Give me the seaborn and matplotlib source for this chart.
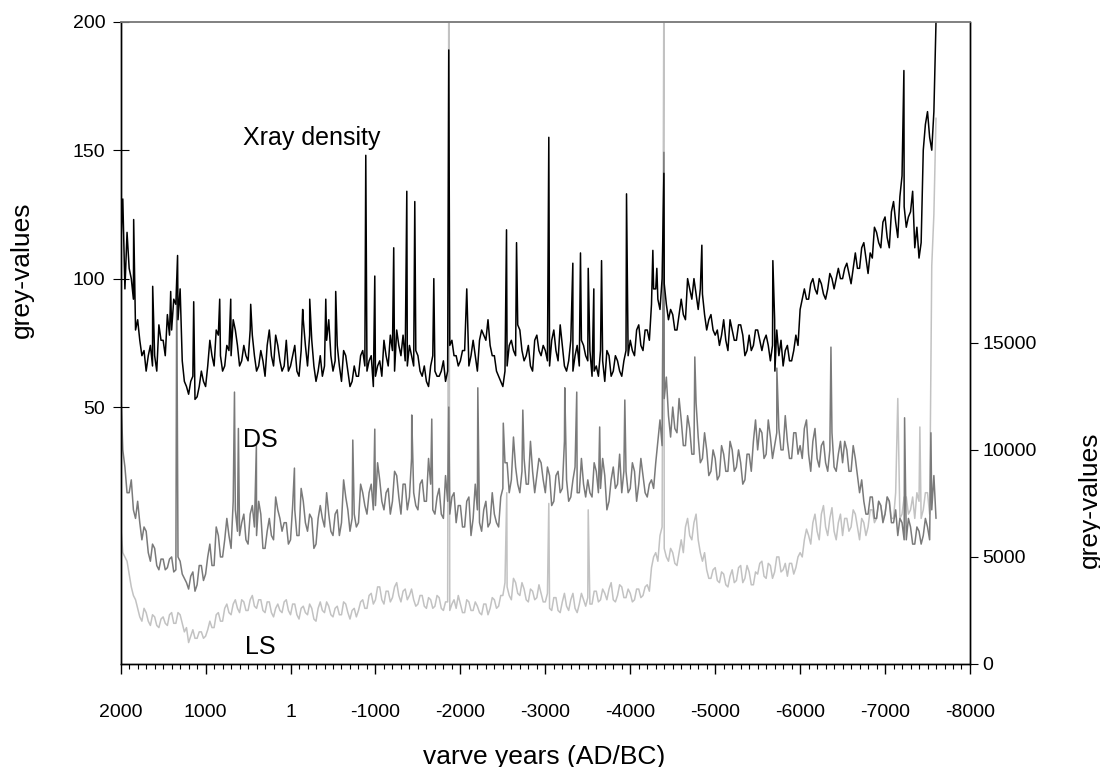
import numpy as np
import pandas as pd
import matplotlib
matplotlib.use("Agg")
import matplotlib.pyplot as plt
import seaborn as sns
from matplotlib.ticker import MultipleLocator

sns.set_theme(style="white")
plt.rcParams['font.family'] = ['Liberation Sans', 'DejaVu Sans']

# ---------------- data ----------------
years_base = list(range(2000, -7601, -50))   # 2000, 1950, ..., -7600
years_mid = list(range(1975, -7576, -50))    # 1975, 1925, ..., -7575

xray_base = [
    112, 96, 104, 92, 84, 70, 64, 74, 70, 82,
    76, 86, 80, 90, 96, 60, 55, 62, 54, 64,
    58, 76, 66, 78, 64, 74, 70, 80, 66, 74,
    68, 78, 64, 72, 62, 80, 66, 74, 64, 76,
    66, 74, 62, 84, 66, 76, 60, 70, 66, 84,
    64, 74, 60, 70, 58, 66, 62, 72, 64, 70,
    62, 68, 76, 66, 72, 80, 70, 68, 74, 66,
    70, 62, 60, 66, 64, 62, 68, 64, 76, 70,
    68, 72, 66, 76, 64, 80, 76, 74, 70, 62,
    58, 66, 76, 70, 80, 68, 74, 64, 78, 70,
    72, 66, 80, 68, 74, 64, 76, 70, 66, 74,
    68, 62, 66, 72, 60, 70, 64, 68, 62, 72,
    76, 70, 82, 72, 80, 90, 96, 88, 98, 84,
    86, 80, 92, 84, 96, 100, 88, 94, 80, 86,
    78, 74, 84, 72, 80, 76, 82, 70, 78, 74,
    80, 72, 78, 68, 84, 70, 66, 74, 68, 78,
    88, 96, 92, 100, 94, 98, 92, 102, 96, 104,
    100, 106, 98, 110, 104, 114, 102, 108, 118, 112,
    124, 112, 130, 116, 140, 120, 126, 112, 108, 150,
    165, 150, 200,
]
xray_mid = [
    86, 118, 100, 80, 76, 72, 70, 66, 64, 76,
    70, 78, 92, 84, 68, 58, 60, 53, 58, 60,
    66, 70, 80, 70, 66, 72, 84, 74, 68, 70,
    80, 70, 66, 68, 74, 70, 78, 68, 66, 64,
    70, 64, 72, 74, 78, 66, 64, 62, 76, 70,
    68, 66, 72, 64, 60, 62, 70, 66, 68, 58,
    66, 62, 70, 78, 64, 74, 78, 66, 70, 72,
    64, 66, 58, 70, 62, 64, 60, 74, 70, 66,
    72, 64, 70, 70, 76, 78, 84, 70, 64, 60,
    64, 74, 72, 82, 72, 70, 66, 76, 72, 74,
    68, 76, 72, 82, 66, 68, 64, 74, 76, 70,
    72, 64, 62, 68, 72, 62, 70, 64, 68, 70,
    72, 80, 74, 80, 76, 96, 92, 100, 90, 88,
    80, 86, 86, 100, 92, 94, 96, 86, 84, 80,
    80, 78, 76, 84, 76, 82, 78, 72, 72, 80,
    76, 76, 74, 74, 80, 76, 72, 68, 72, 74,
    92, 92, 98, 96, 100, 94, 96, 100, 100, 100,
    104, 102, 104, 104, 112, 108, 110, 120, 114, 122,
    116, 126, 122, 132, 128, 124, 134, 120, 114, 160,
    155, 165,
]
xray_spike_years = [1975, 1847, 1623, 1411, 1330, 1140, 834, 704, 469, -143, -226, -415,
                    -532, -886, -992, -1215, -1369, -1463, -1687, -1863, -2075, -2543,
                    -2661, -3041, -3324, -3414, -3505, -3571, -3662, -3956, -4266, -4313,
                    -4396, -4843, -5679, -5703, -7222]
xray_spike_vals = [131, 123, 97, 95, 109, 91, 92, 92, 90, 88, 92, 92,
                   95, 148, 101, 112, 134, 130, 100, 189, 96, 119,
                   114, 155, 106, 110, 104, 96, 107, 133, 111, 104,
                   141, 113, 107, 64, 181]

ds_base = [
    13000, 9200, 8000, 7200, 7600, 5800, 6200, 4800, 5400, 4400,
    4900, 4500, 5000, 4400, 4800, 4000, 3500, 4300, 3700, 4600,
    4200, 5600, 4600, 6000, 5000, 6800, 5400, 7200, 6000, 7000,
    5600, 7400, 6000, 7000, 5400, 6800, 5800, 7200, 6200, 6600,
    5800, 7200, 6000, 7600, 6200, 6800, 5600, 7400, 6400, 7000,
    6000, 7200, 6600, 7800, 6200, 7000, 6600, 8000, 7000, 8400,
    7400, 8600, 7200, 8200, 7600, 8800, 7000, 8400, 7800, 8000,
    7200, 8600, 7600, 8400, 7000, 8200, 6800, 7600, 7800, 6600,
    7400, 6400, 7800, 6800, 7200, 6200, 7600, 6600, 7000, 6400,
    8200, 9400, 8600, 9200, 8000, 9600, 8400, 9000, 8800, 9400,
    8000, 8800, 7600, 9000, 8200, 8600, 7800, 9200, 8000, 8400,
    8600, 7800, 9000, 8200, 8800, 7600, 9200, 8400, 8000, 9000,
    8200, 9000, 8400, 8800, 7800, 8600, 9400, 11400, 12400, 11600,
    12000, 10800, 11400, 10200, 11000, 9800, 10600, 9600, 10000, 9000,
    9600, 8800, 9800, 9000, 10000, 9200, 9400, 8600, 9800, 10400,
    10000, 10800, 9800, 10600, 10200, 11000, 10000, 10400, 9600, 10800,
    10200, 11000, 9800, 10400, 9600, 10200, 9400, 10000, 9200, 9800,
    9400, 10000, 9000, 9600, 8000, 7600, 7000, 7800, 6800, 7400,
    7000, 7600, 6600, 6000, 6600, 5800, 6400, 5600, 6200, 6000,
    6400, 7200, 6800,
]
ds_mid = [
    10000, 8000, 8600, 6800, 6600, 6400, 5200, 5600, 4600, 4900,
    4400, 4900, 4300, 5000, 4200, 3800, 4100, 3400, 4600, 3900,
    5000, 4600, 6400, 5000, 5800, 6000, 7600, 6200, 6600, 5800,
    7000, 6400, 7600, 5400, 6200, 6000, 7800, 6800, 6600, 5600,
    7400, 6000, 8200, 6600, 7000, 5400, 6800, 6800, 8000, 6200,
    7000, 6000, 8600, 7200, 6800, 6400, 8400, 7400, 8000, 7200,
    9400, 7600, 8000, 7000, 9000, 7800, 8400, 7200, 9600, 7400,
    8400, 7600, 9600, 7200, 7800, 7000, 8800, 7000, 8000, 7400,
    6400, 7600, 6000, 8400, 6600, 7200, 6400, 8000, 6600, 7800,
    9400, 8000, 10600, 8400, 9000, 8400, 10400, 8000, 9600, 8600,
    9200, 7400, 8800, 8000, 10400, 7600, 8600, 8000, 9600, 7800,
    8000, 9400, 8000, 9600, 7200, 8600, 8200, 9800, 9000, 8000,
    9400, 7600, 9600, 8000, 8400, 8200, 10400, 10200, 13400, 10600,
    11000, 12400, 10200, 11600, 9800, 12200, 9400, 10800, 8800, 10000,
    8600, 10200, 9000, 10400, 9000, 10000, 8400, 9800, 9000, 11400,
    11000, 9600, 11400, 9600, 10800, 10000, 11600, 9600, 10800, 9800,
    9600, 11400, 9000, 11000, 9200, 10400, 9000, 10800, 9000, 10400,
    10400, 9000, 10200, 8800, 8600, 7000, 7800, 6800, 7600, 6600,
    7800, 6600, 7200, 6800, 5800, 6800, 5600, 6400, 5600, 6800,
    5800, 8800,
]
ds_spike_years = [1340, 660, 614, 402, -46, -733, -992, -1427, -1663, -1863, -2205,
                  -2505, -2735, -3229, -3370, -3640, -3936, -4396, -4760, -5726,
                  -6363, -7230, -7540]
ds_spike_vals = [18000, 12700, 11000, 10230, 9150, 10460, 10970, 11630, 11440, 12000, 12900,
                 11250, 11860, 12900, 12700, 11070, 12330, 23900, 14340, 13820,
                 14800, 11500, 10800]

ls_base = [
    6500, 5000, 4200, 3200, 2600, 2000, 2400, 1800, 2200, 1700,
    2200, 1800, 2400, 1900, 2300, 1500, 1000, 1600, 1200, 1500,
    1300, 2000, 1700, 2400, 2000, 2800, 2300, 3000, 2400, 2900,
    2500, 3200, 2600, 3000, 2400, 2900, 2200, 2800, 2400, 3000,
    2300, 2800, 2100, 2700, 2300, 2600, 2000, 2900, 2400, 2700,
    2200, 2700, 2300, 2800, 2100, 2600, 2500, 3000, 2600, 3300,
    3000, 3600, 2800, 3400, 3100, 3800, 2900, 3500, 3200, 3000,
    2800, 3200, 2600, 3000, 2700, 3100, 2500, 2900, 2800, 2600,
    2800, 2400, 2900, 2500, 2700, 2300, 2800, 2600, 3000, 2700,
    3200, 3600, 3000, 3800, 3200, 3500, 2900, 3400, 3100, 3300,
    2900, 2600, 3100, 2500, 2900, 2700, 3000, 2600, 2800, 3000,
    3100, 2800, 3400, 3000, 3300, 3500, 3000, 3200, 3600, 3100,
    3300, 3000, 3500, 3200, 3700, 4500, 5200, 6000, 5400, 4800,
    5200, 4600, 5800, 6400, 6000, 6600, 5800, 4800, 4400, 4000,
    4500, 3800, 4200, 3600, 4400, 3900, 4600, 4000, 4300, 3700,
    4200, 4800, 4000, 4600, 4300, 5000, 4400, 4100, 4700, 4500,
    5200, 5800, 6000, 6600, 6200, 7000, 6400, 6800, 6200, 6600,
    6000, 6800, 6400, 7000, 5800, 6600, 6400, 7200, 6800, 7400,
    7000, 7600, 6800, 7400, 7000, 7800, 7200, 6800, 7600, 7200,
    8000, 18600, 25500,
]
ls_mid = [
    5200, 4800, 3600, 3000, 2200, 2600, 2000, 2300, 1800, 2100,
    1900, 2300, 1900, 2400, 1900, 1700, 1300, 1200, 1500, 1200,
    1600, 1700, 2300, 2000, 2600, 2400, 2800, 2600, 3000, 2500,
    3000, 2700, 3000, 2500, 2900, 2400, 2600, 2500, 2900, 2500,
    2800, 2300, 2600, 2400, 2800, 2100, 2600, 2500, 2900, 2300,
    2600, 2300, 2900, 2400, 2500, 2200, 2900, 2600, 3200, 2800,
    3600, 3000, 3400, 2900, 3600, 3200, 3400, 3000, 3500, 2700,
    3200, 2700, 3100, 2600, 3200, 2600, 2900, 2500, 3000, 3200,
    2400, 3000, 2500, 2900, 2400, 2800, 2300, 3100, 2600, 3200,
    3800, 3200, 4000, 3300, 3800, 3000, 3500, 3000, 3700, 2900,
    3300, 2500, 3100, 2400, 3300, 2500, 3300, 2400, 3300, 2700,
    2800, 3400, 2900, 3500, 3000, 3800, 2900, 3700, 3100, 3500,
    2900, 3500, 3100, 3600, 3400, 5000, 4800, 6400, 5000, 5400,
    4700, 5200, 5200, 6800, 5800, 7000, 5200, 5200, 4000, 4400,
    3900, 4300, 3700, 4100, 3800, 4500, 3800, 4600, 3700, 4300,
    4700, 4100, 4700, 4000, 5000, 4300, 4700, 4700, 4200, 5000,
    5000, 6300, 5600, 7000, 5800, 7400, 6000, 7300, 5800, 7000,
    6800, 6200, 7200, 6400, 6800, 6000, 7200, 6600, 7600, 6800,
    7800, 6800, 8000, 6800, 7800, 7000, 7800, 8000, 6800, 8000,
    7000, 21000,
]
ls_spike_years = [-1863, -2546, -3041, -3505, -4396, -7150, -7410]
ls_spike_vals = [32000, 8000, 7500, 7200, 32000, 12400, 11070]

tick_years = list(range(2000, -8001, -1000))
tick_labels = ['2000', '1000', '1', '-1000', '-2000', '-3000', '-4000',
               '-5000', '-6000', '-7000', '-8000']


def merge(base, mid, sy, sv):
    d = dict(zip(years_base, base))
    d.update(dict(zip(years_mid, mid)))
    for y, v in zip(sy, sv):
        d[y] = v
    ks = sorted(d, reverse=True)
    return pd.DataFrame({'year': ks, 'value': [d[k] for k in ks]})


xray_df = merge(xray_base, xray_mid, xray_spike_years, xray_spike_vals)
ds_df = merge(ds_base, ds_mid, ds_spike_years, ds_spike_vals)
ls_df = merge(ls_base, ls_mid, ls_spike_years, ls_spike_vals)

# ---------------- figure ----------------
fig = plt.figure(figsize=(11, 7.67), dpi=100)
ax = fig.add_axes([0.1097, 0.1343, 0.7721, 0.8374])
ax2 = ax.twinx()

sns.lineplot(data=ls_df, x='year', y='value', ax=ax2, color='#c2c2c2',
             linewidth=1.1, estimator=None, sort=False)
sns.lineplot(data=ds_df, x='year', y='value', ax=ax2, color='#7a7a7a',
             linewidth=1.1, estimator=None, sort=False)
sns.lineplot(data=xray_df, x='year', y='value', ax=ax, color='black',
             linewidth=1.1, estimator=None, sort=False)

ax.set_zorder(ax2.get_zorder() + 1)
ax.patch.set_visible(False)

ax.set_xlim(2000, -8000)
ax.set_ylim(-50, 200)
ax2.set_ylim(0, 30000)

ax.set_xticks(tick_years)
ax.set_xticklabels(tick_labels)
ax.xaxis.set_minor_locator(MultipleLocator(100))
ax.set_yticks([50, 100, 150, 200])
ax2.set_yticks([0, 5000, 10000, 15000])

ax.set_xlabel('')
ax.set_ylabel('')
ax2.set_ylabel('')
ax.grid(False)
ax2.grid(False)

ax.tick_params(axis='x', which='major', direction='out', length=7, width=1,
               pad=22, labelsize=14, bottom=True, colors='black')
ax.tick_params(axis='x', which='minor', direction='out', length=3.5, width=0.8,
               bottom=True, colors='black')
ax.tick_params(axis='y', direction='inout', length=12, width=0.8, pad=5,
               labelsize=14, left=True, colors='black')
ax2.tick_params(axis='y', direction='out', length=6, width=0.8, pad=3,
                labelsize=14, right=True, colors='black')

for a in (ax, ax2):
    for side in ('left', 'right', 'bottom'):
        a.spines[side].set_color('black')
        a.spines[side].set_linewidth(1.0)
    a.spines['top'].set_color('#808080')
    a.spines['top'].set_linewidth(1.2)

ax.text(563, 154.8, 'Xray density', fontsize=18, ha='left', va='center', color='black')
ax2.text(563, 10460, 'DS', fontsize=18, ha='left', va='center', color='black')
ax2.text(540, 794, 'LS', fontsize=18, ha='left', va='center', color='black')

fig.text(0.02, 0.648, 'grey-values', rotation=90, fontsize=19, ha='center',
         va='center', color='black')
fig.text(0.991, 0.348, 'grey-values', rotation=90, fontsize=19, ha='center',
         va='center', color='black')
fig.text(0.495, 0.013, 'varve years (AD/BC)', fontsize=19, ha='center',
         va='center', color='black')

fig.savefig('out.png', dpi=100)
